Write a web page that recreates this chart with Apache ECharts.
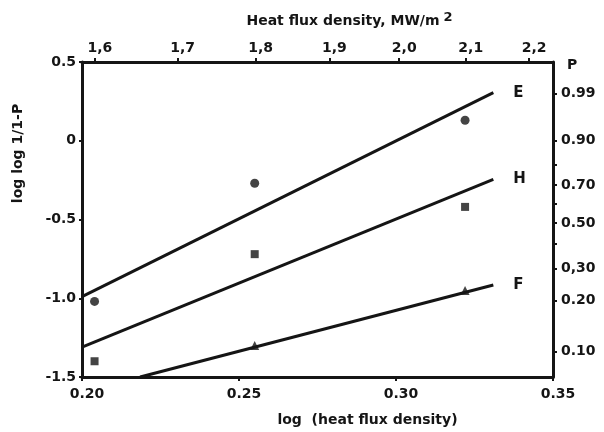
<!DOCTYPE html>
<html>
<head>
<meta charset="utf-8">
<script src="https://cdn.jsdelivr.net/npm/echarts@6/dist/echarts.min.js"></script>
<style>
html,body{margin:0;padding:0;background:#fff;}
#chart{width:604px;height:432px;}
</style>
</head>
<body>
<div id="chart"></div>
<script>
// ---- data ----
const xRange = [0.20, 0.35];
const yRange = [-1.5, 0.5];
const yInterval = 0.5;
const xInterval = 0.05;

// top axis: heat flux density (MW/m2), placed at log10 positions
const topTickValues = [1.6, 1.7, 1.8, 1.9, 2.0, 2.1, 2.2];
const topTickLabels = ['1,6', '1,7', '1,8', '1,9', '2,0', '2,1', '2,2'];

// right axis: probability P, placed at log log 1/(1-P)
const pTickValues = [0.99, 0.90, 0.70, 0.50, 0.30, 0.20, 0.10];
const pTickLabels = ['0.99', '0.90', '0.70', '0.50', '0,30', '0.20', '0.10'];
const pMinorValues = [0.80, 0.60, 0.40];

// measured points
const eX = [0.204, 0.255, 0.322];
const eY = [-1.02, -0.27, 0.13];
const hX = [0.204, 0.255, 0.322];
const hY = [-1.40, -0.72, -0.42];
const fX = [0.255, 0.322];
const fY = [-1.30, -0.95];

// fitted lines (end points)
const eLineX = [0.200, 0.331];
const eLineY = [-0.99, 0.305];
const hLineX = [0.200, 0.331];
const hLineY = [-1.31, -0.245];
const fLineX = [0.2185, 0.331];
const fLineY = [-1.50, -0.916];

// ---- build chart ----
const zip = (xs, ys) => xs.map((x, i) => [x, ys[i]]);
const toLogLog = p => Math.log10(Math.log10(1 / (1 - p)));
const topPos = topTickValues.map(v => Math.log10(v));
const pPos = pTickValues.map(toLogLog);
const pMinorPos = pMinorValues.map(toLogLog);
const nearestLabel = (v, pos, labels) => {
  let best = 0, d = Infinity;
  pos.forEach((p, i) => { const dd = Math.abs(p - v); if (dd < d) { d = dd; best = i; } });
  return labels[best];
};

const INK = '#151515';
const FONT = 'DejaVu Sans';
const labelStyle = { color: INK, fontFamily: FONT, fontWeight: 'bold', fontSize: 14 };
const axisLine = { show: true, onZero: false, lineStyle: { color: INK, width: 3 } };

const chart = echarts.init(document.getElementById('chart'), null, { renderer: 'canvas' });

const lineSeries = (name, xs, ys) => ({
  type: 'line', name, data: zip(xs, ys), symbol: 'none',
  lineStyle: { color: INK, width: 3 },
  xAxisIndex: 0, yAxisIndex: 0, z: 3, clip: true,
  endLabel: { show: true, formatter: name, distance: 20, color: INK, fontFamily: FONT, fontWeight: 'bold', fontSize: 15 }
});
const pointSeries = (name, xs, ys, symbol, size) => ({
  type: 'scatter', name, data: zip(xs, ys), symbol, symbolSize: size,
  itemStyle: { color: INK }, xAxisIndex: 0, yAxisIndex: 0, z: 4
});

chart.setOption({
  animation: false,
  backgroundColor: '#fff',
  grid: { left: 82, right: 51, top: 62, bottom: 55, show: false },
  xAxis: [
    {
      type: 'value', position: 'bottom', min: xRange[0], max: xRange[1], interval: xInterval,
      axisLine, splitLine: { show: false },
      axisTick: { show: true, inside: false, length: 4, lineStyle: { color: INK, width: 2 } },
      axisLabel: Object.assign({ margin: 10, padding: [0, 0, 0, 10], formatter: v => v.toFixed(2) }, labelStyle),
      name: 'log  (heat flux density)', nameLocation: 'middle', nameGap: 36,
      nameTextStyle: Object.assign({ padding: [0, 0, 0, 100] }, labelStyle)
    },
    {
      type: 'value', position: 'top', min: xRange[0], max: xRange[1],
      axisLine, splitLine: { show: false },
      axisTick: { show: true, inside: false, length: 4, customValues: topPos, lineStyle: { color: INK, width: 2 } },
      axisLabel: Object.assign({ margin: 7, padding: [0, 0, 0, 10], customValues: topPos,
        formatter: v => nearestLabel(v, topPos, topTickLabels) }, labelStyle),
      name: 'Heat flux density, MW/m{sup|2}', nameLocation: 'middle', nameGap: 30,
      nameTextStyle: Object.assign({ padding: [0, 0, 0, 64],
        rich: { sup: { fontFamily: FONT, fontWeight: 'bold', fontSize: 13, color: INK, padding: [0, 0, 8, 4] } } }, labelStyle)
    }
  ],
  yAxis: [
    {
      type: 'value', position: 'left', min: yRange[0], max: yRange[1], interval: yInterval,
      axisLine, splitLine: { show: false },
      axisTick: { show: true, inside: false, length: 3, lineStyle: { color: INK, width: 2 } },
      axisLabel: Object.assign({ margin: 6, formatter: v => (v === 0 ? '0' : v.toFixed(1)) }, labelStyle),
      name: 'log log 1/1-P', nameLocation: 'middle', nameGap: 57, nameRotate: 90,
      nameTextStyle: Object.assign({ padding: [0, 0, 0, 132] }, labelStyle)
    },
    {
      type: 'value', position: 'right', min: yRange[0], max: yRange[1],
      axisLine, splitLine: { show: false },
      axisTick: { show: true, inside: false, length: 4, customValues: pPos.concat(pMinorPos), lineStyle: { color: INK, width: 2 } },
      axisLabel: Object.assign({ margin: 8, customValues: pPos,
        formatter: v => nearestLabel(v, pPos, pTickLabels) }, labelStyle),
      name: 'P', nameLocation: 'end', nameGap: -3,
      nameTextStyle: Object.assign({ align: 'left', verticalAlign: 'middle', padding: [0, 0, 0, 14] }, labelStyle)
    }
  ],
  series: [
    lineSeries('E', eLineX, eLineY),
    lineSeries('H', hLineX, hLineY),
    lineSeries('F', fLineX, fLineY),
    pointSeries('E points', eX, eY, 'circle', 9),
    pointSeries('H points', hX, hY, 'rect', 8),
    pointSeries('F points', fX, fY, 'triangle', 9)
  ]
});
</script>
</body>
</html>
